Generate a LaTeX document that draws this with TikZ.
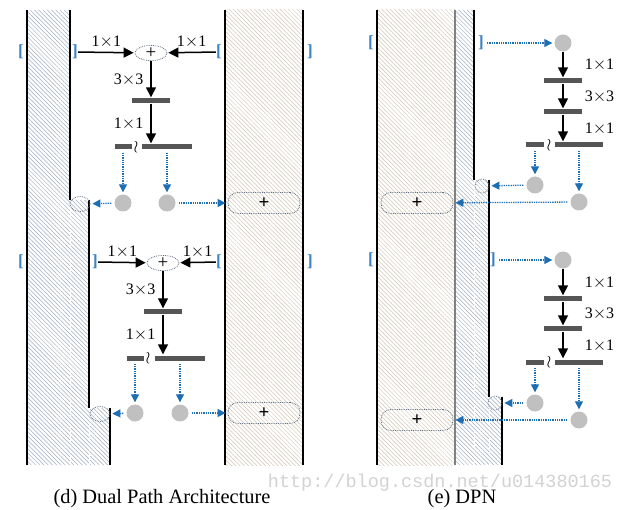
\documentclass[tikz,border=0pt]{standalone}
\usepackage{fontspec}
\setmainfont{Liberation Serif}
\setmonofont{Liberation Mono}
\usepackage{tikz}
\usetikzlibrary{arrows.meta, positioning, shapes.geometric, patterns.meta}
\definecolor{dpnblue}{RGB}{30,110,180}
\definecolor{brkblue}{RGB}{60,130,195}
\definecolor{hatchblue}{RGB}{158,172,192}
\definecolor{hatchtan}{RGB}{208,198,178}
\definecolor{bargray}{RGB}{85,85,85}
\definecolor{ballgray}{RGB}{192,192,192}
\definecolor{outline}{RGB}{95,110,130}
\tikzset{
flow/.style={-{Triangle[width=10pt,length=10pt]}, line width=1.5pt, shorten >=1pt}, % black conv arrows
dotflow/.style={-{Triangle[width=8pt,length=8pt]}, densely dotted, line width=1.3pt, dpnblue, shorten <=3pt, shorten >=2pt}, % blue dotted arrows
wall/.style={line width=1.5pt}, % column borders
bluehatch/.style={pattern={Lines[angle=-45, distance=3pt, line width=0.5pt]}, pattern color=hatchblue},
tanhatch/.style={pattern={Lines[angle=-45, distance=3pt, line width=0.5pt]}, pattern color=hatchtan},
faint/.style={white, line width=0.8pt, densely dashed},
brk/.style={brkblue, inner sep=0pt, font=\bfseries\fontsize{17}{17}\selectfont}, % the [ ] brackets
convbar/.style={fill=bargray, inner sep=0pt, minimum width=38pt, minimum height=5pt},
wave/.style={inner sep=0pt, font=\fontsize{19}{19}\selectfont},
ball/.style={circle, fill=ballgray, inner sep=0pt, minimum size=17pt},
addnode/.style={ellipse, draw=outline, densely dotted, thick, inner sep=0pt, minimum width=32pt, minimum height=15pt, font=\fontsize{19}{19}\selectfont},
pill/.style={rectangle, rounded corners=10pt, draw=outline, densely dotted, thick, minimum width=72pt, minimum height=21pt, inner sep=0pt, font=\bfseries\fontsize{19}{19}\selectfont},
merge/.style={ellipse, draw=outline, densely dotted, thick, inner sep=0pt, minimum width=20pt, minimum height=15pt},
lbl/.style={inner sep=1pt, font=\fontsize{16}{16}\selectfont},
captext/.style={inner sep=0pt, font=\fontsize{20.4}{20.4}\selectfont},
wmark/.style={inner sep=0pt, gray!35, font=\ttfamily\fontsize{18.5}{18.5}\selectfont},
}
\begin{document}
\begin{tikzpicture}[x=1pt, y=-1pt]
\useasboundingbox (0,0) rectangle (618,510);

\node[wmark] (wm) at (440,483) {http://blog.csdn.net/u014380165};

% (d) columns
\path[bluehatch] (27,10) -- (70,10) -- (70,200) -- (89,200) -- (89,408) -- (110,408) -- (110,465) -- (27,465) -- cycle;
\path[tanhatch] (225,10) rectangle (303,465);
\draw[faint] (70,200) -- (70,465);
\draw[faint] (89,408) -- (89,465);
\draw[wall] (27,10) -- (27,465);
\draw[wall] (70,10) -- (70,200);
\draw[wall] (89,200) -- (89,408);
\draw[wall] (110,408) -- (110,465);
\draw[wall] (225,10) -- (225,465);
\draw[wall] (303,10) -- (303,465);

% (e) columns
\path[tanhatch] (377,10) rectangle (455,465);
\path[bluehatch] (455,10) -- (474,10) -- (474,180) -- (489,180) -- (489,397) -- (502,397) -- (502,465) -- (455,465) -- cycle;
\draw[faint] (474,180) -- (474,465);
\draw[faint] (489,397) -- (489,465);
\draw[wall] (377,10) -- (377,465);
\draw[wall, gray] (455,10) -- (455,465);
\draw[wall] (474,10) -- (474,180);
\draw[wall] (489,180) -- (489,397);
\draw[wall] (502,397) -- (502,465);

% (d) first block
\node[brk] (dl1) at (21,52) {[};
\node[brk] (dr1) at (75,52) {]};
\node[brk] (ml1) at (219,52) {[};
\node[brk] (mr1) at (310,52) {]};
\node[addnode] (add1) at (151,53) {+};
\node[convbar] (bar1) at (151,101) {};
\node[convbar, minimum width=17pt] (lo1) at (123,147) {};
\node[wave] (wr1) at (136,147) {$\wr$};
\node[convbar, minimum width=50pt] (hi1) at (167,147) {};
\node[ball] (ca1) at (123,203) {};
\node[ball] (cb1) at (167,203) {};
\node[merge] (jn1) at (80,204) {};
\node[pill] (pl1) at (264,203) {+};
\draw[flow] (dr1) -- node[lbl, above=3pt]{1$\times$1} (add1);
\draw[flow] (ml1) -- node[lbl, above=3pt]{1$\times$1} (add1);
\draw[flow] (add1) -- node[lbl, left=6pt]{3$\times$3} (bar1);
\draw[flow] (bar1) -- node[lbl, left=6pt]{1$\times$1} (bar1 |- hi1.north);
\draw[dotflow] (lo1) -- (ca1);
\draw[dotflow] (hi1.south -| cb1) -- (cb1);
\draw[dotflow] (ca1) -- (jn1);
\draw[dotflow] (cb1) -- (pl1);

% (d) second block
\node[brk] (dl2) at (21,262) {[};
\node[brk] (dr2) at (95,262) {]};
\node[brk] (ml2) at (219,262) {[};
\node[brk] (mr2) at (310,262) {]};
\node[addnode] (add2) at (163,263) {+};
\node[convbar] (bar2) at (163,312) {};
\node[convbar, minimum width=17pt] (lo2) at (135,358) {};
\node[wave] (wr2) at (148,358) {$\wr$};
\node[convbar, minimum width=50pt] (hi2) at (180,358) {};
\node[ball] (ca2) at (135,413) {};
\node[ball] (cb2) at (180,413) {};
\node[merge] (jn2) at (100,414) {};
\node[pill] (pl2) at (264,413) {+};
\draw[flow] (dr2) -- node[lbl, above=3pt]{1$\times$1} (add2);
\draw[flow] (ml2) -- node[lbl, above=3pt]{1$\times$1} (add2);
\draw[flow] (add2) -- node[lbl, left=6pt]{3$\times$3} (bar2);
\draw[flow] (bar2) -- node[lbl, left=6pt]{1$\times$1} (bar2 |- hi2.north);
\draw[dotflow] (lo2) -- (ca2);
\draw[dotflow] (hi2.south -| cb2) -- (cb2);
\draw[dotflow] (ca2) -- (jn2);
\draw[dotflow] (cb2) -- (pl2);

% (e) first block
\node[brk] (el1) at (371,43) {[};
\node[brk] (er1) at (481,43) {]};
\node[ball] (g1) at (563,43) {};
\node[convbar] (eb1) at (563,81) {};
\node[convbar] (ec1) at (563,112) {};
\node[convbar, minimum width=18pt] (elo1) at (535,145) {};
\node[wave] (ew1) at (549,145) {$\wr$};
\node[convbar, minimum width=48pt] (ehi1) at (579,145) {};
\node[ball] (ha1) at (535,185) {};
\node[ball] (hb1) at (579,202) {};
\node[merge, circle, minimum size=14pt] (k1) at (482,186) {};
\node[pill] (q1) at (417,203) {+};
\draw[dotflow] (er1) -- (g1);
\draw[flow] (g1) -- node[lbl, right=20pt]{1$\times$1} (eb1);
\draw[flow] (eb1) -- node[lbl, right=20pt]{3$\times$3} (ec1);
\draw[flow] (ec1) -- node[lbl, right=20pt]{1$\times$1} (ec1 |- ehi1.north);
\draw[dotflow] (elo1) -- (ha1);
\draw[dotflow] (ehi1.south -| hb1) -- (hb1);
\draw[dotflow] (ha1) -- (k1);
\draw[dotflow] (hb1) -- (q1);

% (e) second block
\node[brk] (el2) at (371,260) {[};
\node[brk] (er2) at (493,260) {]};
\node[ball] (g2) at (563,260) {};
\node[convbar] (eb2) at (563,299) {};
\node[convbar] (ec2) at (563,329) {};
\node[convbar, minimum width=18pt] (elo2) at (535,362) {};
\node[wave] (ew2) at (549,362) {$\wr$};
\node[convbar, minimum width=48pt] (ehi2) at (579,362) {};
\node[ball] (ha2) at (535,403) {};
\node[ball] (hb2) at (579,420) {};
\node[merge, circle, minimum size=14pt] (k2) at (495,403) {};
\node[pill] (q2) at (417,420) {+};
\draw[dotflow] (er2) -- (g2);
\draw[flow] (g2) -- node[lbl, right=20pt]{1$\times$1} (eb2);
\draw[flow] (eb2) -- node[lbl, right=20pt]{3$\times$3} (ec2);
\draw[flow] (ec2) -- node[lbl, right=20pt]{1$\times$1} (ec2 |- ehi2.north);
\draw[dotflow] (elo2) -- (ha2);
\draw[dotflow] (ehi2.south -| hb2) -- (hb2);
\draw[dotflow] (ha2) -- (k2);
\draw[dotflow] (hb2) -- (q2);

% captions
\node[captext] (capd) at (162,499) {(d) Dual Path Architecture};
\node[captext] (cape) at (462,499) {(e) DPN};
\end{tikzpicture}
\end{document}
